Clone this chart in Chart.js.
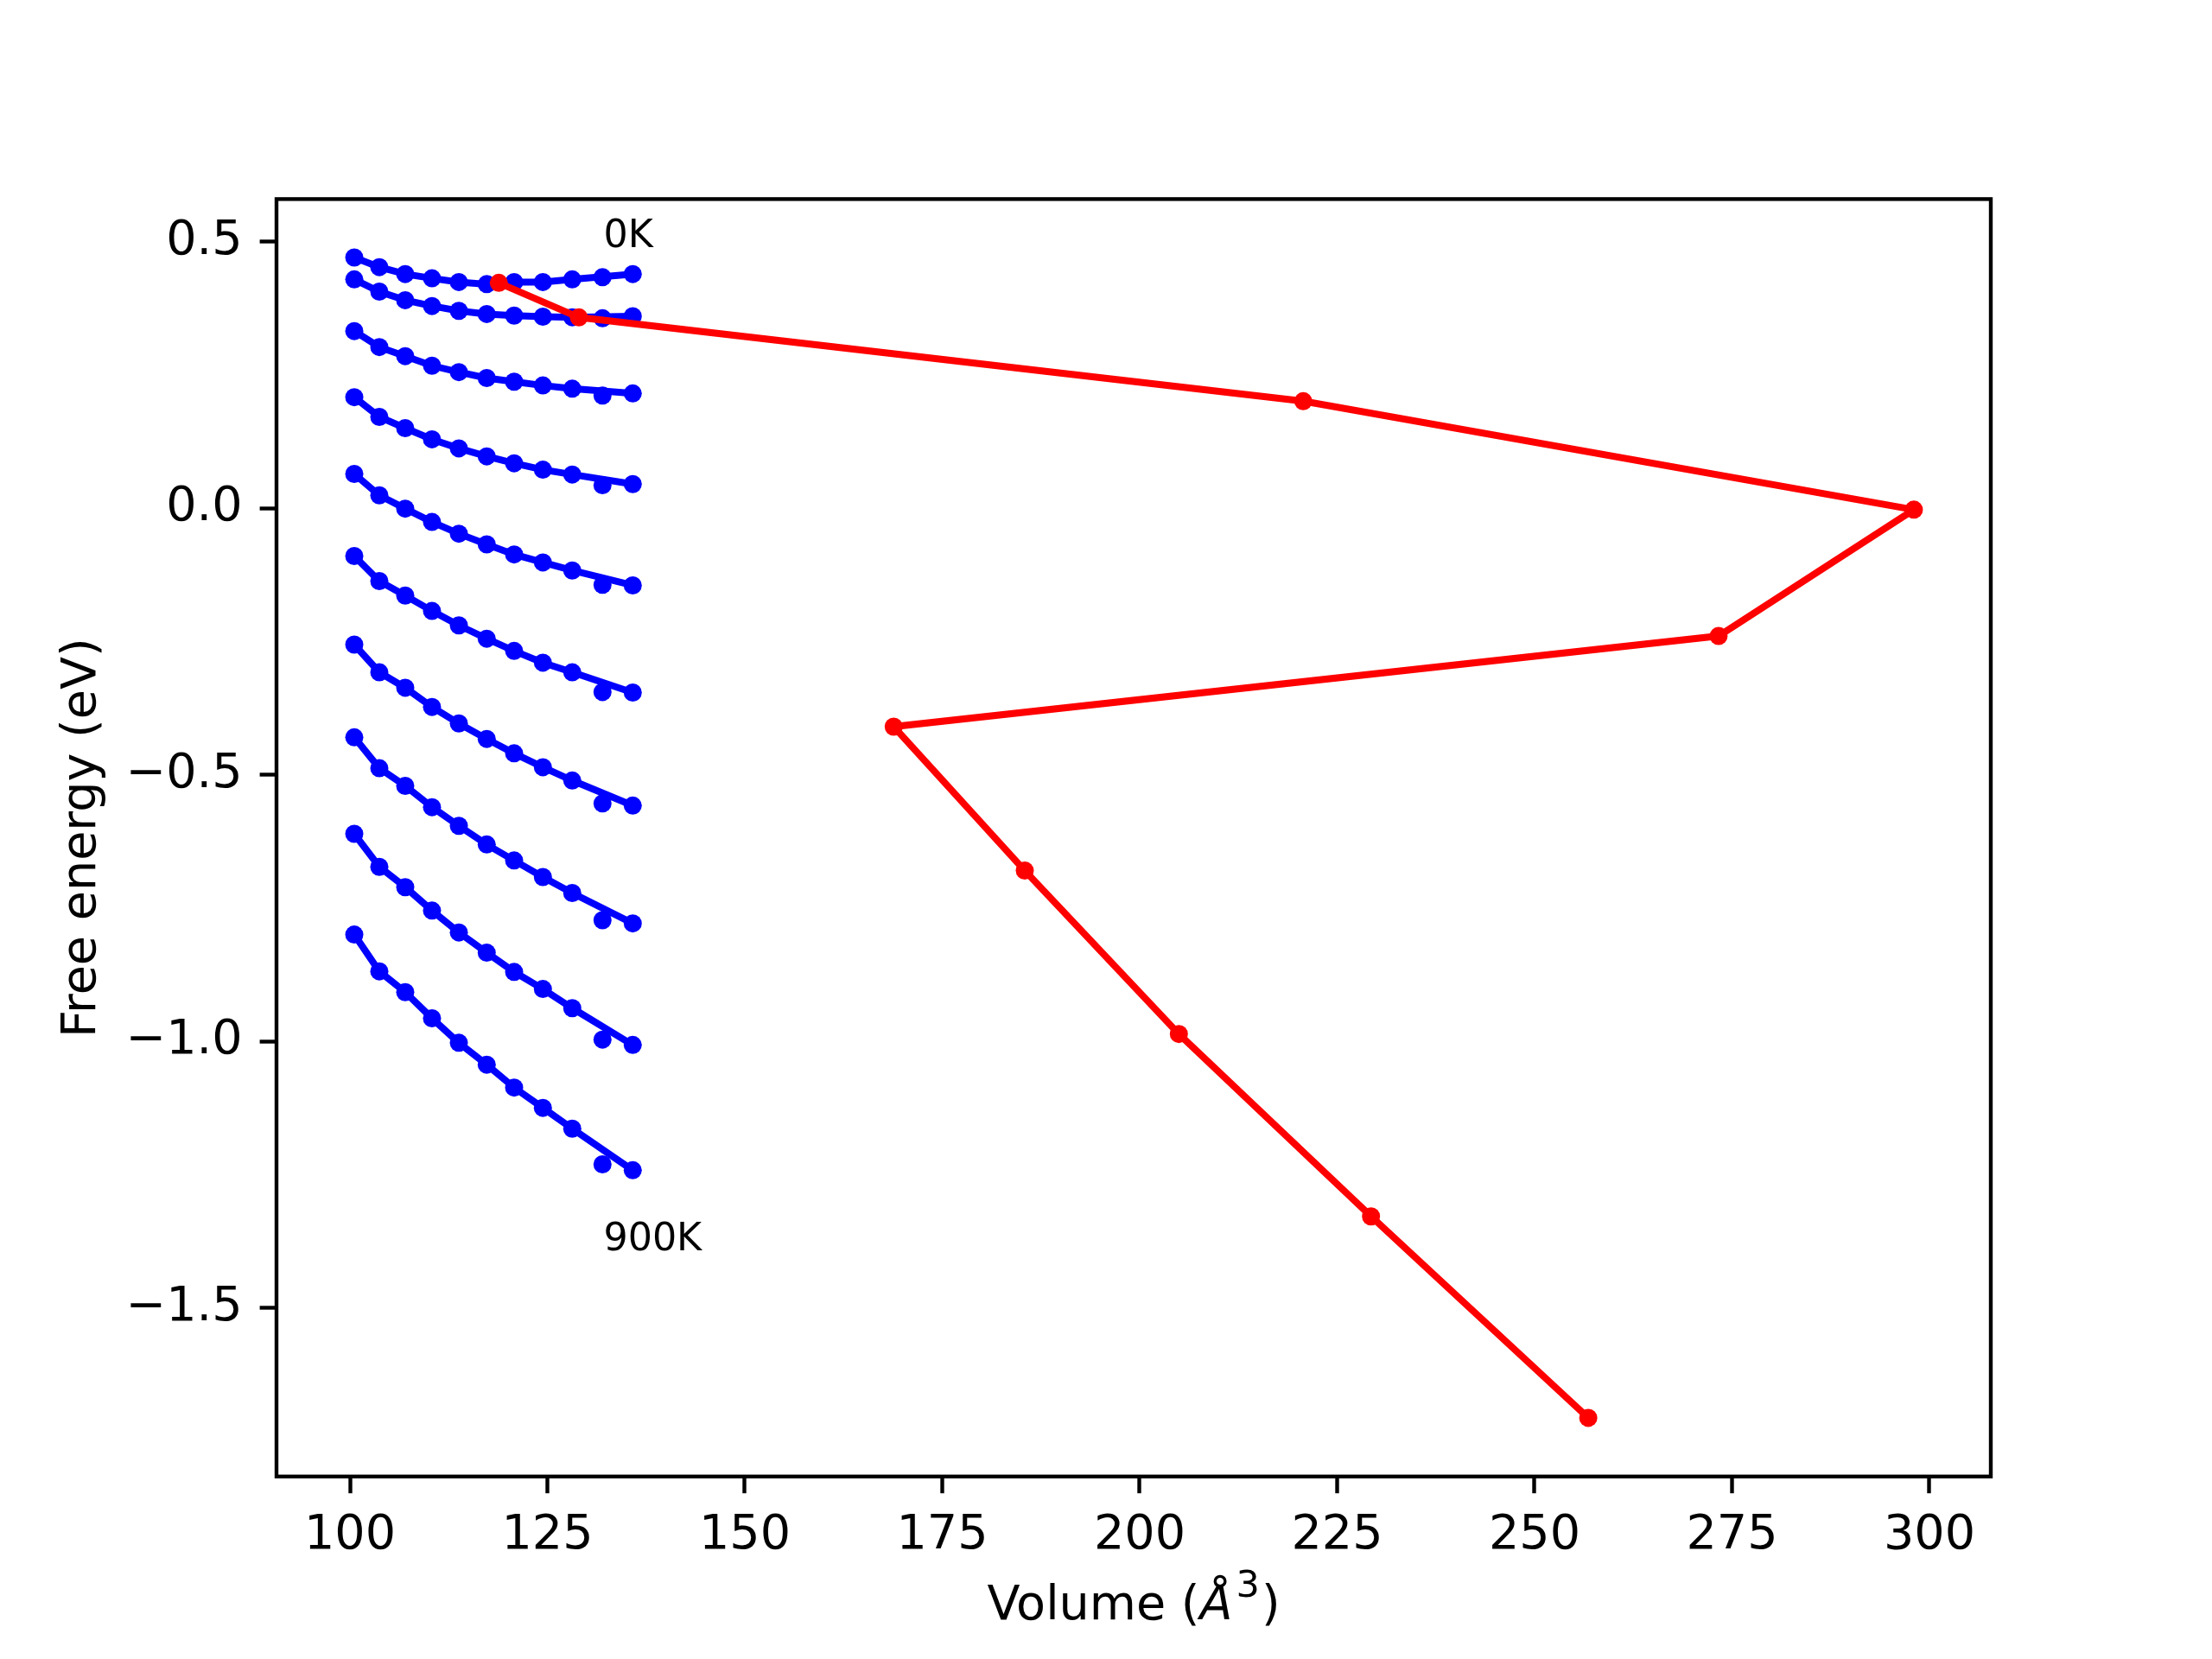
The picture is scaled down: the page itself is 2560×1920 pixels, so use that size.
<!DOCTYPE html>
<html>
<head>
<meta charset="utf-8">
<title>Free energy vs volume</title>
<script src="https://cdn.jsdelivr.net/npm/chart.js@4.4.1/dist/chart.umd.min.js"></script>
<style>
  html, body { margin: 0; padding: 0; background: #fff; }
  canvas { display: block; }
</style>
</head>
<body>
<canvas id="feChart" width="2560" height="1920"></canvas>
<script>
// volumes (Å^3) sampled for every isotherm
const volumes = [100.55, 103.72, 107.0, 110.39, 113.79, 117.32, 120.79, 124.43, 128.15, 131.98, 135.81];

// free energy (eV) per isotherm, 0K .. 900K
const energy0K   = [0.470, 0.452, 0.439, 0.431, 0.424, 0.420, 0.424, 0.424, 0.429, 0.433, 0.439];
const energy100K = [0.429, 0.406, 0.390, 0.379, 0.370, 0.364, 0.361, 0.359, 0.358, 0.356, 0.360];
const energy200K = [0.332, 0.302, 0.285, 0.267, 0.255, 0.244, 0.237, 0.230, 0.224, 0.211, 0.215];
const energy300K = [0.208, 0.171, 0.150, 0.129, 0.112, 0.097, 0.084, 0.072, 0.063, 0.043, 0.045];
const energy400K = [0.064, 0.024, -0.001, -0.026, -0.048, -0.068, -0.087, -0.102, -0.117, -0.144, -0.145];
const energy500K = [-0.090, -0.137, -0.164, -0.193, -0.220, -0.245, -0.268, -0.290, -0.308, -0.345, -0.346];
const energy600K = [-0.256, -0.308, -0.337, -0.373, -0.404, -0.433, -0.460, -0.486, -0.511, -0.554, -0.558];
const energy700K = [-0.430, -0.488, -0.521, -0.561, -0.596, -0.631, -0.661, -0.692, -0.722, -0.773, -0.779];
const energy800K = [-0.611, -0.673, -0.711, -0.755, -0.796, -0.834, -0.870, -0.902, -0.938, -0.997, -1.007];
const energy900K = [-0.800, -0.869, -0.908, -0.957, -1.003, -1.044, -1.087, -1.125, -1.164, -1.231, -1.242];

const isotherms = [energy0K, energy100K, energy200K, energy300K, energy400K,
                   energy500K, energy600K, energy700K, energy800K, energy900K];

// red path (volume, free energy)
const pathVolumes  = [118.85, 128.99, 220.71, 298.03, 273.3, 168.85, 185.45, 204.96, 229.29, 256.8];
const pathEnergies = [0.4225, 0.3577, 0.2005, -0.003, -0.240, -0.410, -0.680, -0.9865, -1.3285, -1.7065];

const xTicks = [100, 125, 150, 175, 200, 225, 250, 275, 300];
const yTicks = [0.5, 0.0, -0.5, -1.0, -1.5];

// temperature notes, in data coordinates
const noteTexts = ["0K", "900K"];
const noteX = [132.1, 132.1];
const noteY = [0.489, -1.392];

const FONT = '"DejaVu Sans", "Liberation Sans", sans-serif';
const BLUE = "#0000ff";
const RED = "#ff0000";

// in the original the connecting line skips the 10th sample of each isotherm
const SKIP_IN_LINE = 9;

const datasets = [];
isotherms.forEach((energies) => {
  const pts = volumes.map((v, i) => ({ x: v, y: energies[i] }));
  datasets.push({
    data: pts.filter((p, i) => i !== SKIP_IN_LINE),
    showLine: true,
    borderColor: BLUE,
    borderWidth: 8,
    pointRadius: 0,
    order: 1,
  });
  datasets.push({
    data: pts,
    showLine: false,
    pointRadius: 10.5,
    pointBackgroundColor: BLUE,
    pointBorderWidth: 0,
    order: 1,
  });
});
datasets.push({
  data: pathVolumes.map((v, i) => ({ x: v, y: pathEnergies[i] })),
  showLine: true,
  borderColor: RED,
  borderWidth: 8,
  pointRadius: 10.5,
  pointBackgroundColor: RED,
  pointBorderWidth: 0,
  order: 0,
});

const decorations = {
  id: "decorations",
  beforeDraw(chart) {
    const ctx = chart.ctx;
    ctx.save();
    ctx.fillStyle = "#fff";
    ctx.fillRect(0, 0, chart.width, chart.height);
    ctx.restore();
  },
  afterDraw(chart) {
    const { ctx, chartArea: a, scales } = chart;
    ctx.save();
    // frame
    ctx.strokeStyle = "#000";
    ctx.lineWidth = 4.4;
    ctx.strokeRect(a.left, a.top, a.right - a.left, a.bottom - a.top);

    // temperature notes
    ctx.fillStyle = "#000";
    ctx.font = "44.4px " + FONT;
    ctx.textAlign = "left";
    ctx.textBaseline = "alphabetic";
    noteTexts.forEach((t, i) => {
      ctx.fillText(t, scales.x.getPixelForValue(noteX[i]), scales.y.getPixelForValue(noteY[i]));
    });

    // y title
    ctx.save();
    ctx.translate(110, (a.top + a.bottom) / 2);
    ctx.rotate(-Math.PI / 2);
    ctx.font = "55.6px " + FONT;
    ctx.textAlign = "center";
    ctx.fillText("Free energy (eV)", 0, 0);
    ctx.restore();

    // x title: Volume (Å^3)
    const parts = [
      { t: "Volume (", f: "55.6px " + FONT, dy: 0, gap: 0 },
      { t: "Å", f: "italic 55.6px " + FONT, dy: 0, gap: 4 },
      { t: "3", f: "43px " + FONT, dy: -26, gap: 2 },
      { t: ")", f: "55.6px " + FONT, dy: 0, gap: 0 },
    ];
    let total = 0;
    parts.forEach((p) => { ctx.font = p.f; p.w = ctx.measureText(p.t).width + p.gap; total += p.w; });
    let px = (a.left + a.right) / 2 - total / 2;
    const base = 1874;
    ctx.textAlign = "left";
    parts.forEach((p) => {
      ctx.font = p.f;
      ctx.fillText(p.t, px, base + p.dy);
      px += p.w;
    });
    ctx.restore();
  },
};

const tickGrid = {
  drawOnChartArea: false,
  drawTicks: true,
  tickLength: 19.4,
  tickWidth: 4.4,
  tickColor: "#000",
};

new Chart(document.getElementById("feChart"), {
  type: "scatter",
  data: { datasets: datasets },
  options: {
    responsive: false,
    devicePixelRatio: 1,
    animation: false,
    events: [],
    layout: { autoPadding: false, padding: { left: 0, top: 230.4, right: 256, bottom: 0 } },
    plugins: {
      legend: { display: false },
      tooltip: { enabled: false },
    },
    scales: {
      x: {
        type: "linear",
        min: 90.7,
        max: 307.77,
        afterBuildTicks: (s) => { s.ticks = xTicks.map((v) => ({ value: v })); },
        afterFit: (s) => { s.height = 1920 - 1708.8; },
        grid: tickGrid,
        border: { display: false },
        ticks: {
          font: { family: FONT, size: 55.6 },
          color: "#000",
          padding: 16,
          maxRotation: 0,
          autoSkip: false,
          callback: (v) => String(v),
        },
      },
      y: {
        type: "linear",
        min: -1.8165,
        max: 0.5796,
        afterBuildTicks: (s) => { s.ticks = yTicks.map((v) => ({ value: v })); },
        afterFit: (s) => { s.width = 320; },
        grid: tickGrid,
        border: { display: false },
        ticks: {
          font: { family: FONT, size: 55.6 },
          color: "#000",
          padding: 20,
          autoSkip: false,
          callback: (v) => (v < 0 ? "\u2212" : "") + Math.abs(v).toFixed(1),
        },
      },
    },
  },
  plugins: [decorations],
});
</script>
</body>
</html>
